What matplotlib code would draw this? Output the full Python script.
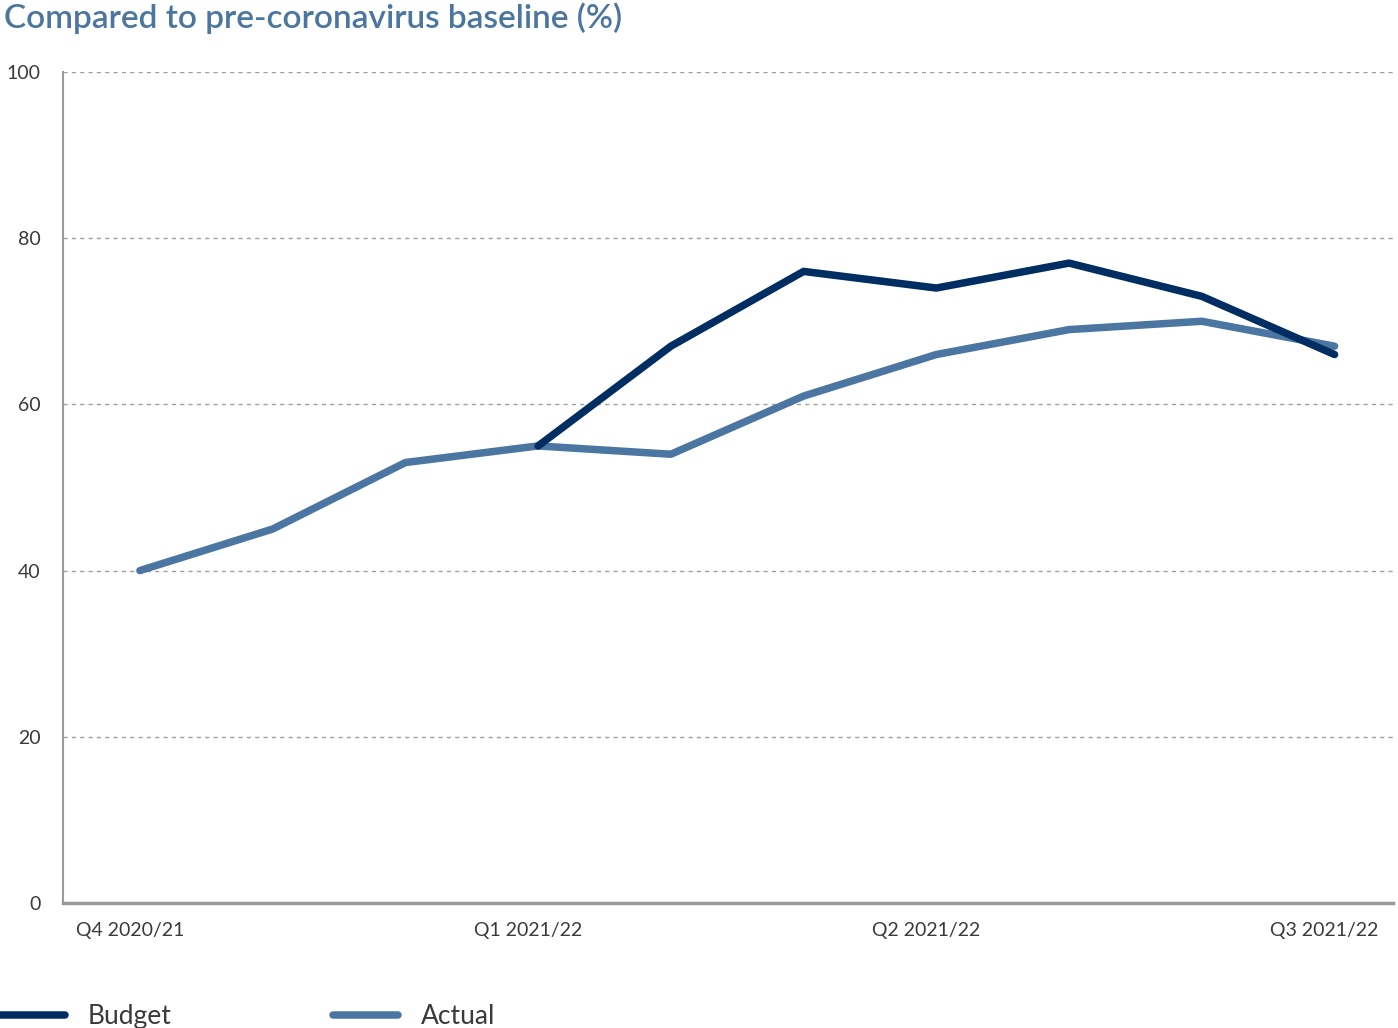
import numpy as np
import matplotlib.pyplot as plt
import matplotlib.transforms as mtransforms

quarters = ['Q4 2020/21', '', '', 'Q1 2021/22', '', '', 'Q2 2021/22', '', '', 'Q3 2021/22']
actual = [40, 45, 53, 55, 54, 61, 66, 69, 70, 67]
budget = [np.nan, np.nan, np.nan, 55, 67, 76, 74, 77, 73, 66]
yticks = [0, 20, 40, 60, 80, 100]

dark = '#002d62'
light = '#4a76a1'
grey = '#999999'
text_col = '#3a3a3a'

plt.rcParams['font.family'] = ['Lato', 'DejaVu Sans']

fig = plt.figure(figsize=(13.98, 10.28), dpi=100)
ax = fig.add_axes([0.045, 0.1216, 0.9514, 0.8084])

x = np.arange(len(actual))
ax.plot(x, actual, color=light, lw=5.4, solid_capstyle='round', solid_joinstyle='round', label='Actual', zorder=3)
ax.plot(x, budget, color=dark, lw=5.4, solid_capstyle='round', solid_joinstyle='round', label='Budget', zorder=4)

ax.set_ylim(0, 100)
ax.set_xlim(-0.58, 9.44)
ax.set_yticks(yticks)
ax.set_yticklabels([str(v) for v in yticks], fontsize=14, color=text_col)
ax.set_xticks(x)
ax.set_xticklabels(quarters, fontsize=14, color=text_col)
ax.tick_params(axis='both', length=0)
ax.tick_params(axis='y', pad=16)
ax.tick_params(axis='x', pad=14)
offset = mtransforms.ScaledTranslation(-10 / 100, 0, fig.dpi_scale_trans)
for lbl in ax.get_xticklabels():
    lbl.set_transform(lbl.get_transform() + offset)

ax.grid(axis='y', linestyle=(0, (3, 3)), color='#a0a0a0', lw=1)
ax.set_axisbelow(True)
for s in ['top', 'right']:
    ax.spines[s].set_visible(False)
ax.spines['left'].set_color(grey)
ax.spines['left'].set_linewidth(1.5)
ax.spines['bottom'].set_color(grey)
ax.spines['bottom'].set_linewidth(2.5)

fig.text(0.003, 0.982, 'Compared to pre-coronavirus baseline (%)', fontsize=24,
         color=light, ha='left', va='center', fontweight='semibold')

h, l = ax.get_legend_handles_labels()
fig.legend(h[::-1], l[::-1], loc='center left', bbox_to_anchor=(0.0, 0.011), ncol=2,
           frameon=False, fontsize=19, handlelength=2.46, handletextpad=0.87,
           columnspacing=6.1, borderpad=0, borderaxespad=0, labelcolor=text_col)

fig.savefig('out.png', dpi=100)
